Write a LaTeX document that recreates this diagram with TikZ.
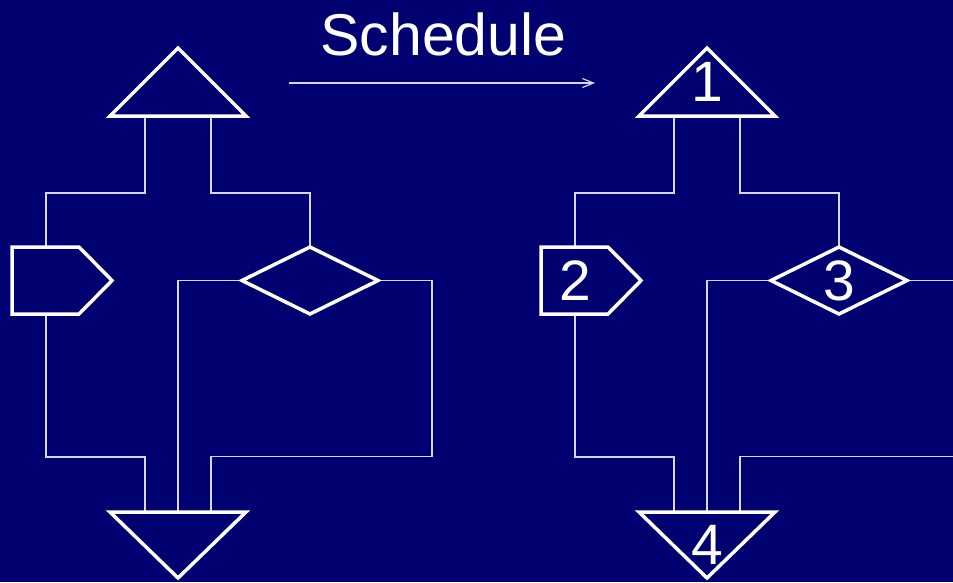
\documentclass[tikz,border=0pt]{standalone}
\usepackage{fontspec}
\setmainfont{Liberation Sans}
\usetikzlibrary{calc,arrows.meta}
\definecolor{bg}{RGB}{0,0,112}
\definecolor{wire}{RGB}{215,215,230}
\begin{document}
\begin{tikzpicture}[x=1pt,y=-1pt,
  frame/.style={inner sep=0pt,outer sep=0pt,text=white,font=\fontsize{57}{60}\selectfont},
  numlbl/.style={inner sep=0pt,outer sep=0pt,text=white,font=\fontsize{57}{60}\selectfont},
  shp/.style={draw=white,line width=3.5pt},
  conn/.style={draw=wire,line width=1.5pt}]
\fill[bg] (0,0) rectangle (953,582);
\useasboundingbox (0,0) rectangle (953,582);
\clip (0,0) rectangle (953,582);
\node[anchor=base,text=white,inner sep=0pt,font=\fontsize{59}{62}\selectfont] (title) at (443.5,55) {Schedule};
\coordinate (a1) at (289,83);
\coordinate (a2) at (595,83);
\draw[conn,line width=1.2pt,-{Straight Barb[length=11pt,width=9pt]}] (a1) -- (a2);
\foreach \dx/\s/\la/\lb/\lc/\ld in {0/L/{}/{}/{}/{}, 529/R/1/2/3/4}{
  % nodes (frames of the shapes)
  \node[frame,minimum width=136pt,minimum height=68pt] (T\s) at ({178+\dx},82) {\la};
  \node[frame,minimum width=100pt,minimum height=67pt] (P\s) at ({62+\dx},280.5) {};
  \node[numlbl] (N\s) at ($(P\s.center)+(-16,0)$) {\lb};
  \node[frame,minimum width=136pt,minimum height=67pt] (D\s) at ({310+\dx},280.5) {\lc};
  \node[frame,minimum width=136pt,minimum height=66pt] (B\s) at ({178+\dx},545) {\ld};
  % connectors
  \draw[conn] ($(T\s.south)+(-33,0)$) -- ++(0,77) -| ($(P\s.north west)+(34,0)$);
  \draw[conn] ($(T\s.south)+(33,0)$) -- ++(0,77) -| (D\s.north);
  \draw[conn] (D\s.west) -| (B\s.north);
  \draw[conn] (D\s.east) -- ++(54,0) -- ++(0,176) -| ($(B\s.north)+(33,0)$);
  \draw[conn] ($(P\s.south west)+(34,0)$) -- ++(0,143) -| ($(B\s.north)+(-33,0)$);
  % outlines
  \draw[shp] (T\s.north) -- (T\s.south east) -- (T\s.south west) -- cycle;
  \draw[shp] (P\s.north west) -- ($(P\s.north east)+(-33,0)$) -- (P\s.east)
     -- ($(P\s.south east)+(-33,0)$) -- (P\s.south west) -- cycle;
  \draw[shp] (D\s.north) -- (D\s.east) -- (D\s.south) -- (D\s.west) -- cycle;
  \draw[shp] (B\s.north west) -- (B\s.north east) -- (B\s.south) -- cycle;
}
\end{tikzpicture}
\end{document}
